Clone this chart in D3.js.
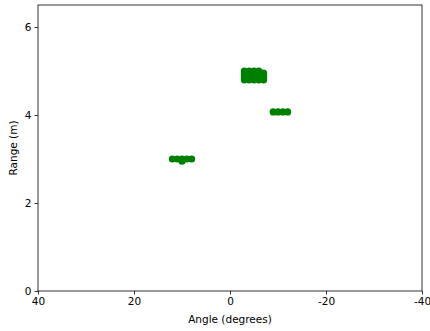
<!DOCTYPE html>
<html>
<head>
<meta charset="utf-8">
<script src="https://cdn.jsdelivr.net/npm/d3@7"></script>
<style>
	body { margin: 0; background: #fff; }
	svg text { font-family: "DejaVu Sans", sans-serif; }
</style>
</head>
<body>
<svg id="chart" width="430" height="331"></svg>
<script>
// detections: angle (degrees) and range (m)
var angles = [
	-3, -3, -3, -3, -3,
	-4, -4, -4, -4, -4,
	-5, -5, -5, -5, -5,
	-6, -6, -6, -6, -6,
	-7, -7, -7, -7,
	-9, -10, -11, -12,
	12, 11, 10, 10, 9, 8
];
var ranges = [
	4.8, 4.85, 4.9, 4.95, 5.0,
	4.8, 4.85, 4.9, 4.95, 5.0,
	4.8, 4.85, 4.9, 4.95, 5.0,
	4.8, 4.85, 4.9, 4.95, 5.0,
	4.8, 4.85, 4.9, 4.95,
	4.07, 4.07, 4.07, 4.07,
	3.0, 3.0, 3.0, 2.95, 3.0, 3.0
];
var xTicks = [40, 20, 0, -20, -40];
var yTicks = [0, 2, 4, 6];

var margin = { top: 5, right: 8, bottom: 40, left: 38 };
var width  = 430 - margin.left - margin.right;
var height = 331 - margin.top - margin.bottom;

var svg = d3.select("#chart");
var g = svg.append("g").attr("transform", "translate(" + margin.left + "," + margin.top + ")");

var x = d3.scaleLinear().domain([40, -40]).range([0, width]);
var y = d3.scaleLinear().domain([0, 6.5]).range([height, 0]);

var points = angles.map(function(a, i){ return { a: a, r: ranges[i] }; });

g.selectAll("circle.pt").data(points).enter().append("circle")
	.attr("class", "pt")
	.attr("cx", function(d){ return x(d.a); })
	.attr("cy", function(d){ return y(d.r); })
	.attr("r", 3.6)
	.attr("fill", "#008000");

//axes, plain hyphen for negatives like matplotlib's png
var fmt = function(d){ return String(d); };
var xAxis = g.append("g").attr("transform", "translate(0," + height + ")")
	.call(d3.axisBottom(x).tickValues(xTicks).tickSize(3.5).tickPadding(3).tickFormat(fmt));
var yAxis = g.append("g")
	.call(d3.axisLeft(y).tickValues(yTicks).tickSize(3.5).tickPadding(3).tickFormat(fmt));

[xAxis, yAxis].forEach(function(ax){
	ax.select(".domain").remove();
	ax.selectAll("line").attr("stroke", "#000").attr("stroke-width", 0.8);
	ax.selectAll("text").attr("font-size", "10.5px").attr("fill", "#000")
		.style("font-family", "DejaVu Sans");
});

//frame
g.append("rect")
	.attr("width", width).attr("height", height)
	.attr("fill", "none").attr("stroke", "#000").attr("stroke-width", 0.8);

//labels
svg.append("text")
	.attr("x", margin.left + width / 2).attr("y", 323)
	.attr("text-anchor", "middle").attr("font-size", "10.5px")
	.text("Angle (degrees)");
svg.append("text")
	.attr("transform", "translate(17," + (margin.top + height / 2) + ") rotate(-90)")
	.attr("text-anchor", "middle").attr("font-size", "10.5px")
	.text("Range (m)");
</script>
</body>
</html>
